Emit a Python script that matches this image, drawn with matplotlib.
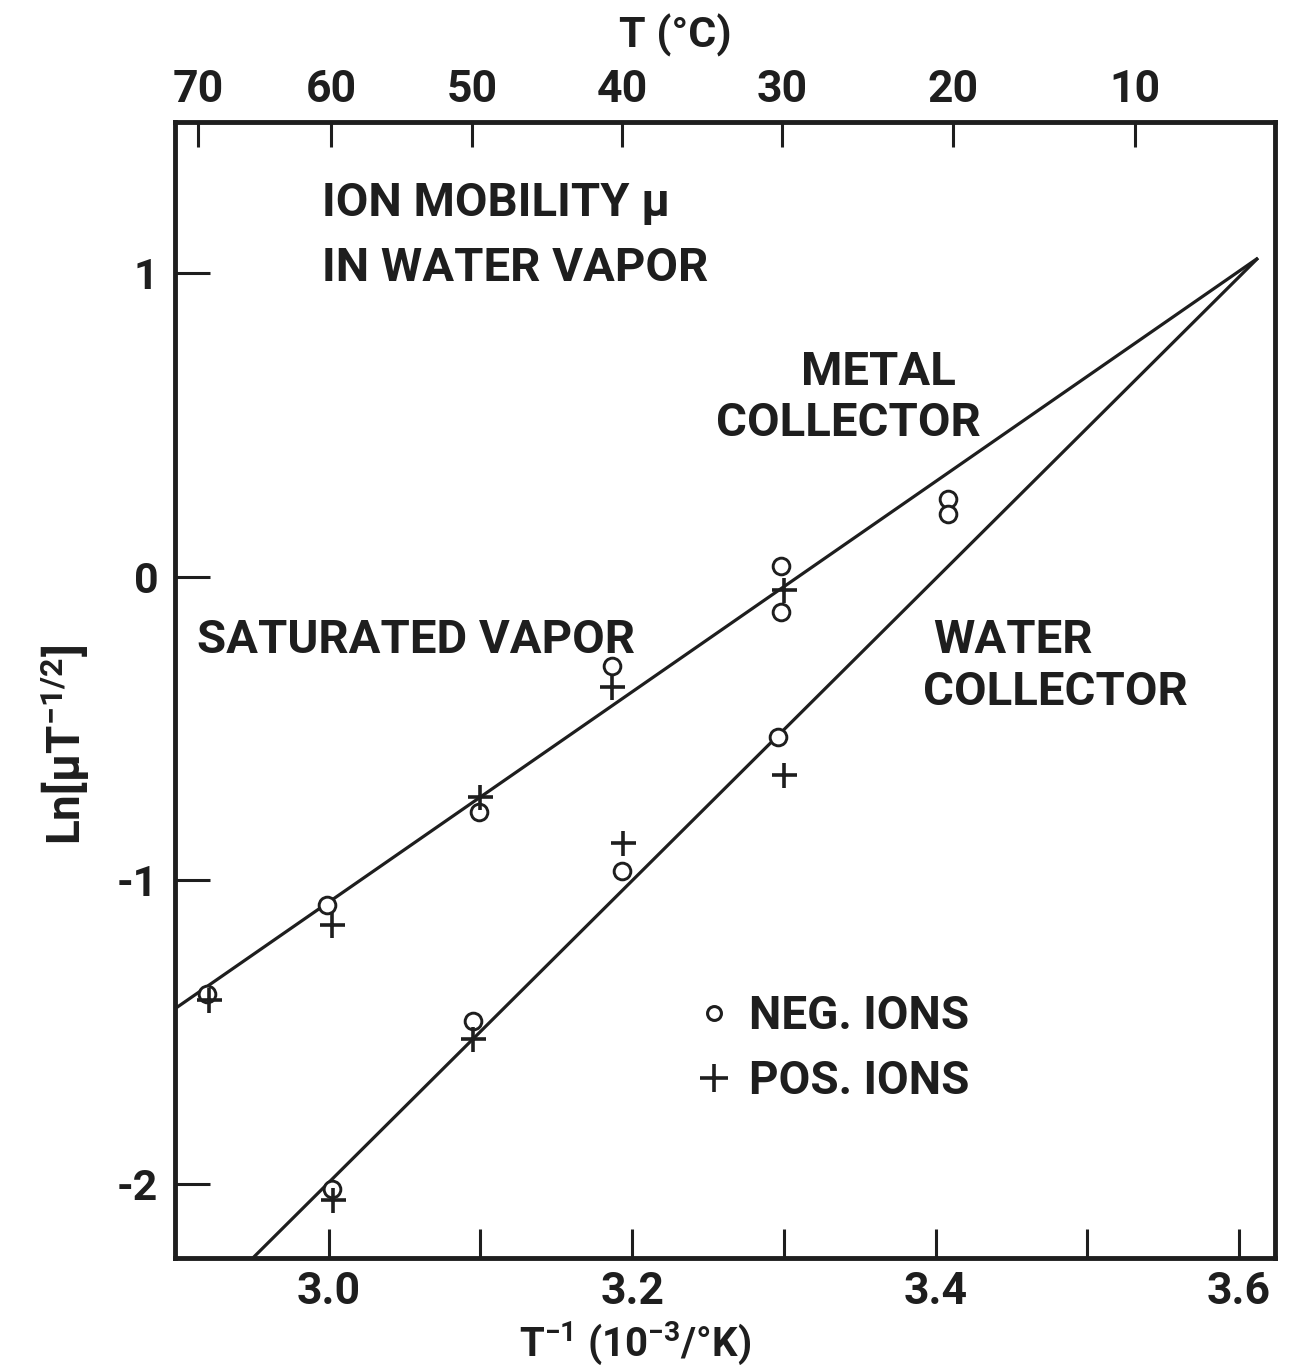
import matplotlib
matplotlib.use("Agg")
import matplotlib.pyplot as plt
from matplotlib.lines import Line2D

plt.rcParams['font.family'] = ['Roboto', 'DejaVu Sans']
plt.rcParams['font.weight'] = 'bold'
plt.rcParams['axes.labelweight'] = 'bold'
plt.rcParams['mathtext.fontset'] = 'custom'
plt.rcParams['mathtext.rm'] = 'Roboto:bold'
plt.rcParams['mathtext.it'] = 'Roboto:bold:italic'
plt.rcParams['mathtext.bf'] = 'Roboto:bold'
plt.rcParams['mathtext.default'] = 'rm'
plt.rcParams['axes.unicode_minus'] = False

INK = '#1e1e1e'

# ---- data ----
metal_neg_x = [2.920, 2.999, 3.099, 3.187, 3.298, 3.298, 3.408, 3.408]
metal_neg_y = [-1.375, -1.081, -0.774, -0.294, 0.034, -0.115, 0.255, 0.206]
metal_pos_x = [2.921, 3.002, 3.100, 3.187, 3.300]
metal_pos_y = [-1.395, -1.147, -0.727, -0.362, -0.045]

water_neg_x = [3.002, 3.095, 3.193, 3.296]
water_neg_y = [-2.017, -1.465, -0.971, -0.529]
water_pos_x = [3.003, 3.095, 3.194, 3.300]
water_pos_y = [-2.053, -1.524, -0.878, -0.653]

metal_line_x = [2.8987, 3.6125]
metal_line_y = [-1.423, 1.049]
water_line_x = [2.950, 3.6125]
water_line_y = [-2.244, 1.049]

x_ticks = [3.0, 3.1, 3.2, 3.3, 3.4, 3.5, 3.6]
x_tick_labels = ['3.0', '', '3.2', '', '3.4', '', '3.6']
y_ticks = [1, 0, -1, -2]
y_tick_labels = ['1', '0', '-1', '-2']
celsius_ticks = [70, 60, 50, 40, 30, 20, 10]

# ---- figure ----
fig = plt.figure(figsize=(12.89, 13.71), dpi=100)
ax = fig.add_axes([175/1289, 113/1371, 1100/1289, 1136/1371])
ax.set_xlim(2.8987, 3.6237)
ax.set_ylim(-2.244, 1.497)

ax.plot(metal_line_x, metal_line_y, color=INK, lw=2.3, solid_capstyle='butt')
ax.plot(water_line_x, water_line_y, color=INK, lw=2.3, solid_capstyle='butt')

circ = dict(marker='o', ms=12, mfc='white', mec=INK, mew=2.1, ls='none', zorder=3)
plus = dict(marker='+', ms=18, mec=INK, mew=2.6, ls='none', zorder=4)
ax.plot(metal_neg_x, metal_neg_y, **circ)
ax.plot(water_neg_x, water_neg_y, **circ)
ax.plot(metal_pos_x, metal_pos_y, **plus)
ax.plot(water_pos_x, water_pos_y, **plus)

for s in ax.spines.values():
    s.set_linewidth(3.5)
    s.set_color(INK)

ax.set_xticks(x_ticks)
ax.set_xticklabels(x_tick_labels)
ax.set_yticks(y_ticks)
ax.set_yticklabels(y_tick_labels)
ax.tick_params(axis='x', direction='in', length=21, width=2.2, pad=9,
               labelsize=32, colors=INK, bottom=True, top=False)
ax.tick_params(axis='y', direction='in', length=25, width=2.2, pad=12,
               labelsize=31, colors=INK, left=True, right=False)

# top Celsius axis
ax2 = ax.twiny()
ax2.set_xlim(ax.get_xlim())
ax2.set_xticks([1000.0 / (c + 273.15) for c in celsius_ticks])
ax2.set_xticklabels([str(c) for c in celsius_ticks])
ax2.tick_params(axis='x', direction='in', length=18, width=2.2, pad=8,
                labelsize=32, colors=INK)
for s in ax2.spines.values():
    s.set_visible(False)
ax2.set_xlabel('T (°C)', fontsize=31, color=INK, va='center', fontweight='bold')
ax2.xaxis.set_label_coords(0.4545, 1.0766)

ax.set_xlabel(r'T$^{-1}$ (10$^{-3}$/°K)', fontsize=29, color=INK, va='center',
              fontweight='bold')
ax.xaxis.set_label_coords(0.418, -0.075)
ax.set_ylabel(r'Ln[μT$^{-1/2}$]', fontsize=33, color=INK, va='center',
              fontweight='bold')
ax.yaxis.set_label_coords(-0.10, 0.4516)

tk = dict(fontsize=34, color=INK, fontweight='bold')
ax.text(2.9954, 1.23, 'ION MOBILITY μ', ha='left', va='center', **tk)
ax.text(2.9954, 1.016, 'IN WATER VAPOR', ha='left', va='center', **tk)
ax.text(2.913, -0.209, 'SATURATED VAPOR', ha='left', va='center', **tk)
ax.text(3.3625, 0.674, 'METAL', ha='center', va='center', **tk)
ax.text(3.3428, 0.506, 'COLLECTOR', ha='center', va='center', **tk)
ax.text(3.4513, -0.209, 'WATER', ha='center', va='center', **tk)
ax.text(3.479, -0.380, 'COLLECTOR', ha='center', va='center', **tk)

handles = [Line2D([], [], marker='o', ms=10, mfc='white', mec=INK, mew=2.2, ls='none'),
           Line2D([], [], marker='+', ms=20, mec=INK, mew=2.6, ls='none')]
leg = ax.legend(handles, ['NEG. IONS', 'POS. IONS'], loc='upper left',
                bbox_to_anchor=(0.4715, 0.232), frameon=False, fontsize=33,
                handlelength=0.9, handletextpad=0.3, labelspacing=0.45,
                borderpad=0, borderaxespad=0)
for t in leg.get_texts():
    t.set_color(INK)

fig.savefig('out.png', dpi=100, facecolor='white')
